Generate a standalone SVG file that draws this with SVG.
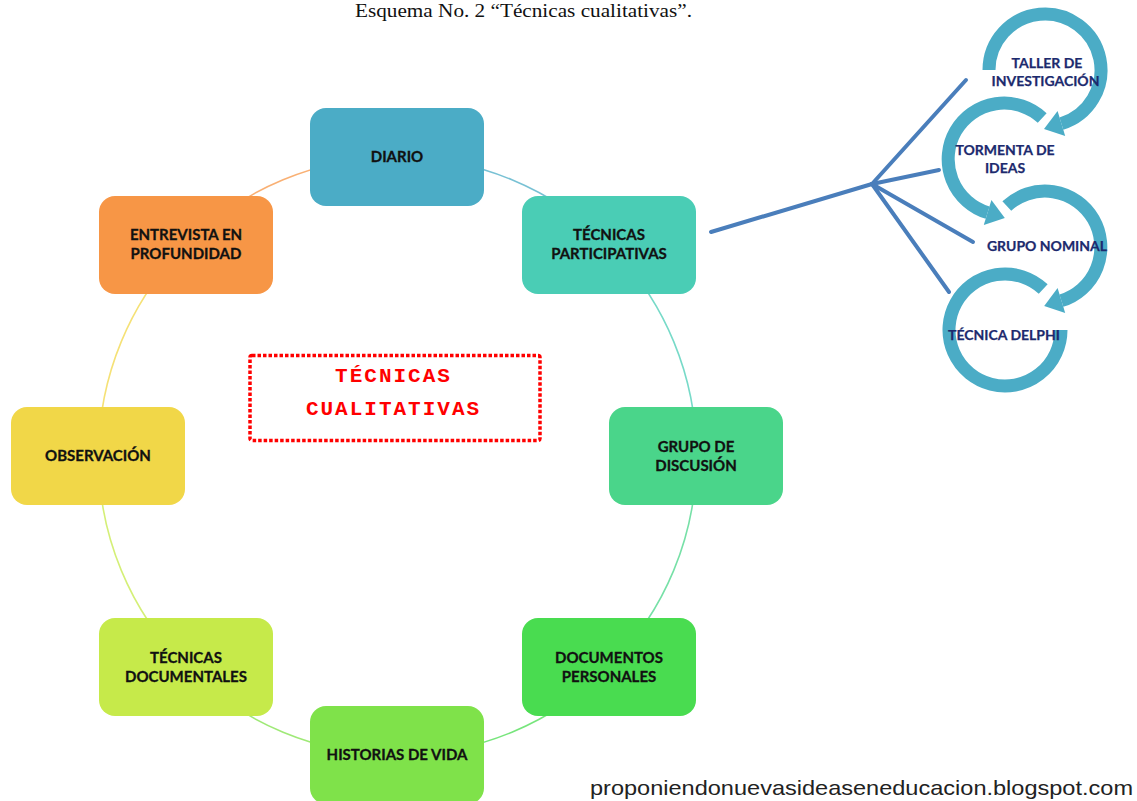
<svg xmlns="http://www.w3.org/2000/svg" width="1137" height="801" viewBox="0 0 1137 801">
<style>
.box{stroke:none}
.nt{font-family:Lato,"Open Sans","Liberation Sans",sans-serif;font-weight:bold;font-size:15px;fill:#111;stroke:#111;stroke-width:0.3;text-anchor:middle}
.rt{font-family:Lato,"Open Sans","Liberation Sans",sans-serif;font-weight:bold;font-size:14px;fill:#1c2a6e;stroke:#1c2a6e;stroke-width:0.25;text-anchor:middle}
.arc{fill:none;stroke-width:1.6;stroke-opacity:0.75}
.ring{fill:none;stroke:#4BACC6;stroke-width:13;stroke-linecap:butt}
.head{fill:#4BACC6}
.br{stroke:#4A7EBB;stroke-width:4;stroke-linecap:round;fill:none}
.ct{font-family:"Liberation Mono","Courier New",monospace;font-weight:bold;font-size:21px;fill:#FF0000;text-anchor:middle;letter-spacing:2px}
</style>
<rect width="1137" height="801" fill="#ffffff"/>
<text x="523.5" y="17" font-family="Liberation Serif,'Times New Roman',serif" font-size="19" fill="#111" text-anchor="middle" textLength="337" lengthAdjust="spacingAndGlyphs">Esquema No. 2 “Técnicas cualitativas”.</text>

<g id="connectors">
<path class="arc" stroke="#4BACC6" d="M397.5 157 A299 299 0 0 1 608.9 244.6"/>
<path class="arc" stroke="#4ACDB5" d="M608.9 244.6 A299 299 0 0 1 696.5 456"/>
<path class="arc" stroke="#4AD58A" d="M696.5 456 A299 299 0 0 1 608.9 667.4"/>
<path class="arc" stroke="#49DC50" d="M608.9 667.4 A299 299 0 0 1 397.5 755"/>
<path class="arc" stroke="#7FE24A" d="M397.5 755 A299 299 0 0 1 186.1 667.4"/>
<path class="arc" stroke="#C6EA4A" d="M186.1 667.4 A299 299 0 0 1 98.5 456"/>
<path class="arc" stroke="#F1D748" d="M98.5 456 A299 299 0 0 1 186.1 244.6"/>
<path class="arc" stroke="#F79646" d="M186.1 244.6 A299 299 0 0 1 397.5 157"/>
<path class="br" d="M711 232 L872 184"/>
<path class="br" d="M872 184 L966 80"/>
<path class="br" d="M872 184 L939 170"/>
<path class="br" d="M872 184 L973 242"/>
<path class="br" d="M872 184 L949 292"/>
</g>

<g id="n-diario"><rect class="box" x="310" y="108" width="174" height="98" rx="16" fill="#4BACC6"/><text class="nt" x="397" y="162">DIARIO</text></g>
<g id="n-tp"><rect class="box" x="522" y="196" width="174" height="98" rx="16" fill="#4ACDB5"/><text class="nt" x="609" y="240">TÉCNICAS</text><text class="nt" x="609" y="259">PARTICIPATIVAS</text></g>
<g id="n-gd"><rect class="box" x="609" y="407" width="174" height="98" rx="16" fill="#4AD58A"/><text class="nt" x="696" y="452">GRUPO DE</text><text class="nt" x="696" y="471">DISCUSIÓN</text></g>
<g id="n-dp"><rect class="box" x="522" y="618" width="174" height="98" rx="16" fill="#49DC50"/><text class="nt" x="609" y="663">DOCUMENTOS</text><text class="nt" x="609" y="682">PERSONALES</text></g>
<g id="n-hv"><rect class="box" x="310" y="706" width="174" height="98" rx="16" fill="#7FE24A"/><text class="nt" x="397" y="760">HISTORIAS DE VIDA</text></g>
<g id="n-td"><rect class="box" x="99" y="618" width="174" height="98" rx="16" fill="#C6EA4A"/><text class="nt" x="186" y="663">TÉCNICAS</text><text class="nt" x="186" y="682">DOCUMENTALES</text></g>
<g id="n-ob"><rect class="box" x="11" y="407" width="174" height="98" rx="16" fill="#F1D748"/><text class="nt" x="98" y="461">OBSERVACIÓN</text></g>
<g id="n-ep"><rect class="box" x="99" y="196" width="174" height="98" rx="16" fill="#F79646"/><text class="nt" x="186" y="240">ENTREVISTA EN</text><text class="nt" x="186" y="259">PROFUNDIDAD</text></g>

<g id="n-center">
<rect x="250" y="355.5" width="290" height="85" rx="2" fill="none" stroke="#FF0000" stroke-width="3.5" stroke-dasharray="3.5 2"/>
<text class="ct" x="393.5" y="382">TÉCNICAS</text>
<text class="ct" x="393.5" y="415">CUALITATIVAS</text>
</g>

<g id="n-taller">
<path class="ring" d="M989 70 A56 56 0 1 1 1061.4 123.6"/>
<polygon class="head" points="1057.6,111.1 1065.2,136 1044,129"/>
<text class="rt" x="1047" y="68">TALLER DE</text>
<text class="rt" x="1045.5" y="86">INVESTIGACIÓN</text>
</g>
<g id="n-tormenta">
<path class="ring" d="M1042.2 118 A56 56 0 1 0 987.6 212.6"/>
<polygon class="head" points="991.4,200.1 983.8,225 1004.8,217.9"/>
<text class="rt" x="1005" y="155">TORMENTA DE</text>
<text class="rt" x="1005" y="173">IDEAS</text>
</g>
<g id="n-grupo">
<path class="ring" d="M1006.8 206 A56 56 0 1 1 1061.4 300.6"/>
<polygon class="head" points="1057.6,288.1 1065.2,313 1044.2,305.9"/>
<text class="rt" x="1047" y="251">GRUPO NOMINAL</text>
</g>
<g id="n-delphi">
<path class="ring" d="M1043.2 289 A56 56 0 1 0 1061 330"/>
<text class="rt" x="1004" y="340">TÉCNICA DELPHI</text>
</g>

<text x="590" y="795" font-family="Liberation Sans,Arial,sans-serif" font-size="21" fill="#222" textLength="543" lengthAdjust="spacingAndGlyphs">proponiendonuevasideaseneducacion.blogspot.com</text>
</svg>
